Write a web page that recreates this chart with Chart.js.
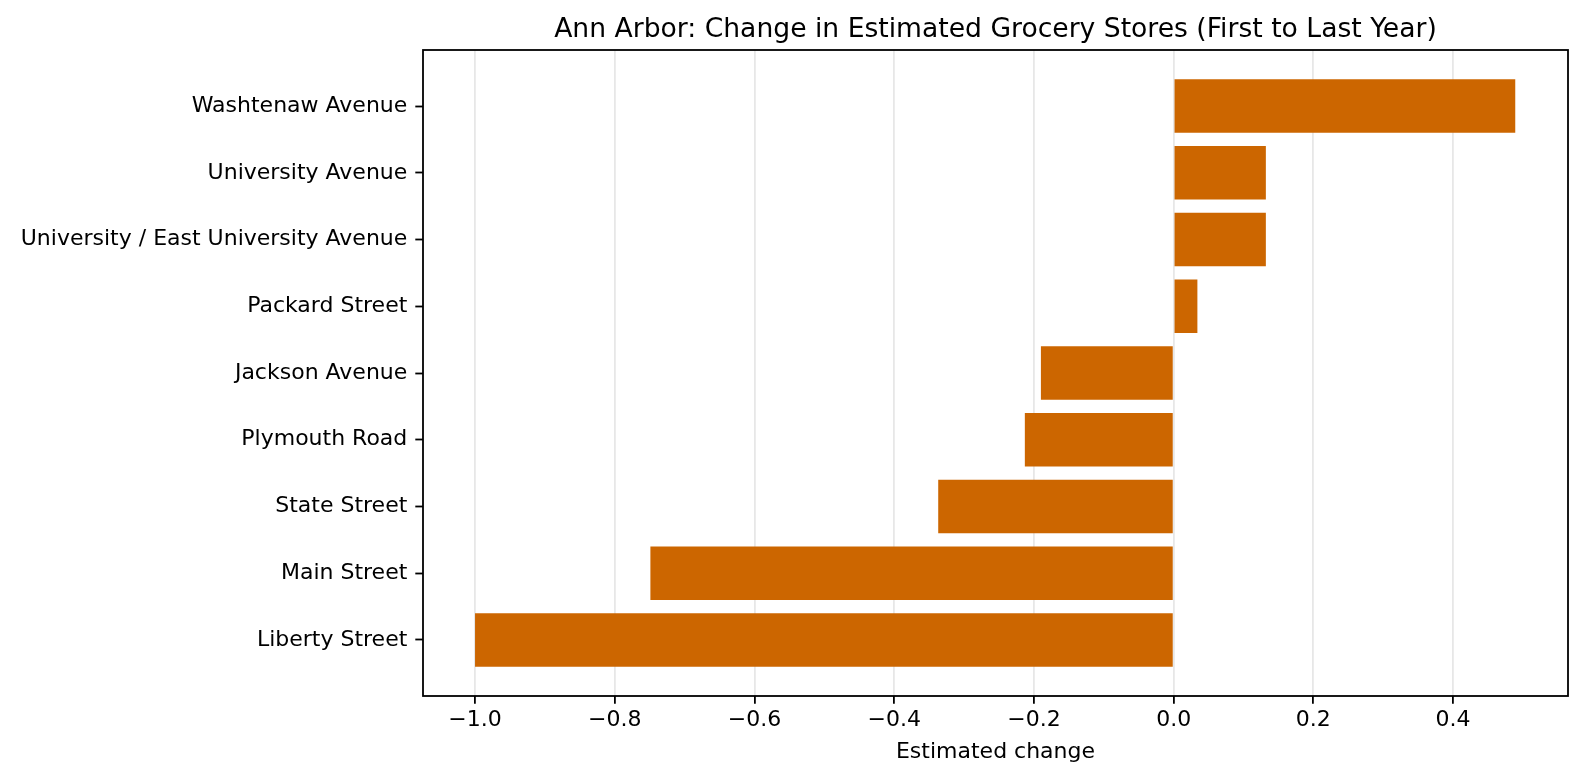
<!DOCTYPE html>
<html>
<head>
<meta charset="utf-8">
<script src="https://cdn.jsdelivr.net/npm/chart.js@4/dist/chart.umd.min.js"></script>
<style>
  html, body { margin: 0; padding: 0; background: #fff; }
  #wrap { width: 1585px; height: 776px; }
</style>
</head>
<body>
<div id="wrap"><canvas id="js--chart" width="1585" height="776"></canvas></div>
<script>
// data, top row first
const streets = ['Washtenaw Avenue', 'University Avenue', 'University / East University Avenue',
    'Packard Street', 'Jackson Avenue', 'Plymouth Road', 'State Street', 'Main Street', 'Liberty Street'];
const changes = [0.489, 0.132, 0.132, 0.034, -0.190, -0.213, -0.337, -0.749, -1.0];
const xTicks = [-1.0, -0.8, -0.6, -0.4, -0.2, 0.0, 0.2, 0.4];
const titleText = 'Ann Arbor: Change in Estimated Grocery Stores (First to Last Year)';

const font = 'DejaVu Sans';
const ctx = document.getElementById('js--chart');

// box around the plot area plus the title centred over it
const frame = {
    id: 'frame',
    afterDraw(chart) {
        const a = chart.chartArea;
        const c = chart.ctx;
        c.save();
        c.strokeStyle = '#000';
        c.lineWidth = 1.8;
        c.strokeRect(a.left, a.top, a.right - a.left, a.bottom - a.top);
        c.fillStyle = '#000';
        c.font = '26.6px "' + font + '"';
        c.textAlign = 'center';
        c.textBaseline = 'alphabetic';
        c.fillText(titleText, (a.left + a.right) / 2, a.top - 13.5);
        c.restore();
    }
};

new Chart(ctx, {
    type: 'bar',
    data: {
        datasets: [{
            data: changes.map((v, i) => ({ x: v, y: i })),
            backgroundColor: '#cc6600',
            borderWidth: 0,
            barPercentage: 0.8,
            categoryPercentage: 1.0
        }]
    },
    options: {
        indexAxis: 'y',
        responsive: false,
        animation: false,
        devicePixelRatio: 1,
        layout: { padding: { left: 0, right: 17, top: 50, bottom: 0 } },
        plugins: {
            legend: { display: false },
            tooltip: { enabled: false },
            title: { display: false }
        },
        scales: {
            x: {
                type: 'linear',
                min: -1.0745,
                max: 0.5645,
                z: 1,
                afterBuildTicks: s => { s.ticks = xTicks.map(v => ({ value: v })); },
                afterFit: s => { s.height = 80; },
                ticks: {
                    color: '#000',
                    font: { family: font, size: 22 },
                    padding: 3,
                    maxRotation: 0,
                    callback: v => (Math.abs(v) < 1e-9 ? '0.0' : v.toFixed(1).replace('-', '\u2212'))
                },
                grid: {
                    color: 'rgba(176,176,176,0.3)',
                    lineWidth: 1.8,
                    tickColor: '#000',
                    tickLength: 7.7,
                    tickWidth: 1.8
                },
                border: { display: false },
                title: {
                    display: true,
                    text: 'Estimated change',
                    color: '#000',
                    font: { family: font, size: 22 },
                    padding: { top: 0, bottom: 11 }
                }
            },
            y: {
                type: 'linear',
                min: -0.84,
                max: 8.84,
                reverse: true,
                offset: false,
                afterBuildTicks: s => { s.ticks = streets.map((_, i) => ({ value: i })); },
                afterFit: s => { s.width = 423; },
                ticks: {
                    color: '#000',
                    font: { family: font, size: 22 },
                    padding: 8,
                    callback: v => streets[v]
                },
                grid: {
                    offset: false,
                    drawOnChartArea: false,
                    tickColor: '#000',
                    tickLength: 7.7,
                    tickWidth: 1.8
                },
                border: { display: false }
            }
        }
    },
    plugins: [frame]
});
</script>
</body>
</html>
